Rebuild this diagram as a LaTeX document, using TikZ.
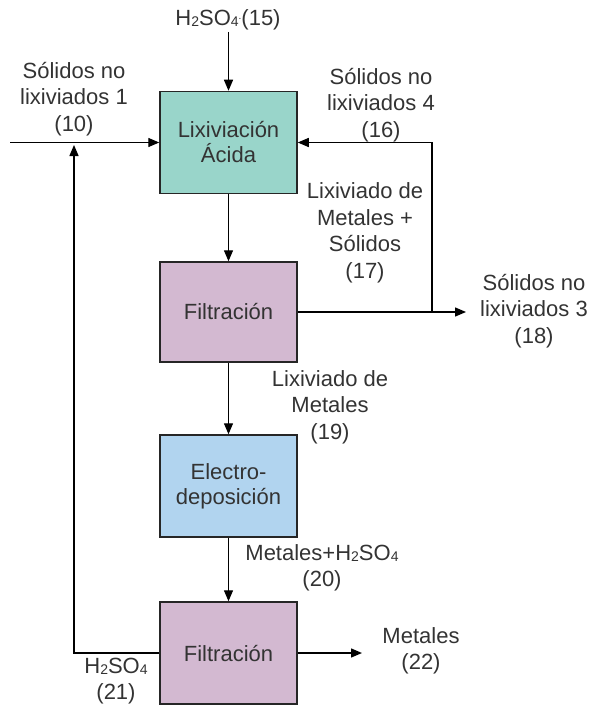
\documentclass[tikz,border=0pt]{standalone}
\usepackage{fontspec}
\setmainfont{Liberation Sans}
\usetikzlibrary{arrows.meta}
\definecolor{teal1}{HTML}{99D5CA}
\definecolor{lilac}{HTML}{D3B9D1}
\definecolor{lblue}{HTML}{B1D4EF}
\definecolor{txt}{HTML}{333333}
\newcommand{\sub}[1]{\raisebox{-1pt}{\fontsize{14}{14}\selectfont #1}}
\begin{document}
\begin{tikzpicture}[x=1pt,y=-1pt,
  proc/.style={draw=black!85,line width=1.5pt,minimum width=137pt,minimum height=102pt,align=center,inner sep=0pt,font=\fontsize{22}{25}\selectfont,text=txt},
  lbl/.style={align=center,font=\fontsize{22}{26.5}\selectfont,text=txt,inner sep=0pt},
  flow/.style={line width=1.4pt,-{Triangle[length=11pt,width=9pt]}}]
\useasboundingbox (0,0) rectangle (591,706);
\node[proc,fill=teal1] (b1) at (228.5,142.5) {Lixiviación\\Ácida};
\node[proc,fill=lilac,minimum height=100pt] (b2) at (228.5,312) {Filtración};
\node[proc,fill=lblue] (b3) at (228.5,486) {Electro-\\deposición};
\node[proc,fill=lilac] (b4) at (228.5,653) {Filtración};
% labels
\node[lbl] (l15) at (228,20) {H\sub{2}SO\sub{4}\raisebox{6pt}{\fontsize{10}{10}\selectfont .}(15)};
\node[lbl] (l10) at (74,99) {Sólidos no\\lixiviados 1\\(10)};
\node[lbl] (l16) at (381,105) {Sólidos no\\lixiviados 4\\(16)};
\node[lbl] (l17) at (365,233) {Lixiviado de\\Metales +\\Sólidos\\(17)};
\node[lbl] (l18) at (534,311) {Sólidos no\\lixiviados 3\\(18)};
\node[lbl] (l19) at (330,407) {Lixiviado de\\Metales\\(19)};
\node[lbl] (l20) at (322,568) {Metales+H\sub{2}SO\sub{4}\\(20)};
\node[lbl] (l21) at (116,681) {H\sub{2}SO\sub{4}\\(21)};
\node[lbl] (l22) at (421,651) {Metales\\(22)};
% coordinates
\coordinate (in10) at (10,142.5);
\coordinate (top15) at (228.5,32);
\coordinate (j16) at (432,312);
\coordinate (c16) at (432,142.5);
\coordinate (out18) at (466,312);
\coordinate (r21) at (74,653);
\coordinate (up21) at (74,145);
\coordinate (out22) at (362,653);
% connectors
\draw[flow] (top15) -- (b1.north);
\draw[flow] (in10) -- (b1.west);
\draw[flow] (b1.south) -- (b2.north);
\draw[flow] (b2.south) -- (b3.north);
\draw[flow] (b3.south) -- (b4.north);
\draw[flow] (b2.east) -- (out18);
\draw[flow] (j16) -- (c16) -- (b1.east);
\draw[flow] (b4.west |- r21) -- (r21) -- (up21);
\draw[flow] (b4.east |- out22) -- (out22);
\end{tikzpicture}
\end{document}
